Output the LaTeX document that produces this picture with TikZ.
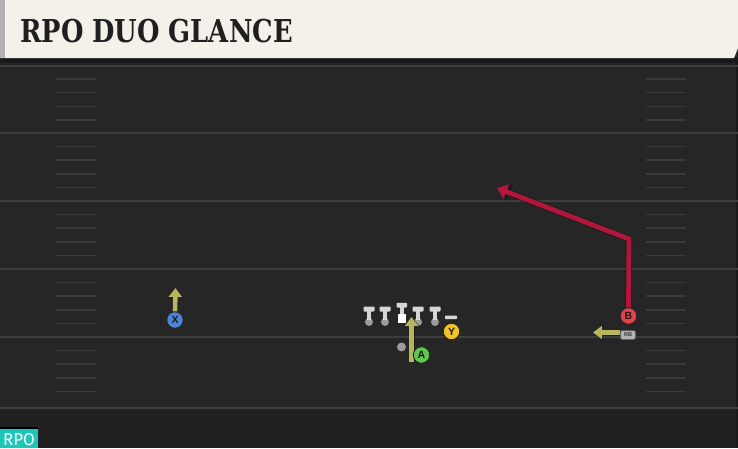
\documentclass[tikz,border=0pt]{standalone}
\usepackage{fontspec}
\setmainfont{Liberation Sans}
\newfontfamily\titlefont{DejaVu Serif}
\newfontfamily\labfont{Fira Sans}
\usetikzlibrary{arrows.meta,calc}
\definecolor{fieldc}{HTML}{262626}
\definecolor{fieldlow}{HTML}{202020}
\definecolor{cream}{HTML}{F4F1EA}
\definecolor{yardc}{HTML}{3E3E3E}
\definecolor{hashc}{HTML}{3A3A3A}
\definecolor{routec}{HTML}{B3163C}
\definecolor{runc}{HTML}{B8B65C}
\definecolor{xblue}{HTML}{4C82DA}
\definecolor{agreen}{HTML}{5EC84C}
\definecolor{yyellow}{HTML}{F2C12C}
\definecolor{bred}{HTML}{E8414B}
\definecolor{tealc}{HTML}{1CC7B8}
\definecolor{linec}{HTML}{D6D6D6}
\definecolor{dotc}{HTML}{9C9C9C}
\begin{document}
\begin{tikzpicture}[x=1pt,y=-1pt,
  player/.style={circle,draw=black!85,line width=0.9pt,minimum size=16.5pt,inner sep=0pt,
    font=\bfseries\fontsize{10.5}{10.5}\selectfont,text=black!90},
  runshadow/.style={draw=black!90,line width=6pt,-{Triangle[width=16pt,length=11pt]}},
  runarrow/.style={draw=runc,line width=4.6pt,-{Triangle[width=13pt,length=9pt]}},
  routeline/.style={draw=routec,line width=4.8pt,line join=miter,-{Triangle[width=15pt,length=10pt]}},
  shadowline/.style={draw=black!90,line width=6.6pt,line join=miter,-{Triangle[width=18pt,length=12pt]}},
  yard/.style={draw=yardc,line width=2pt},
  hash/.style={draw=hashc,line width=1.5pt},
  barc/.style={fill=linec,rounded corners=0.8pt}]
\useasboundingbox (0,0) rectangle (738,448);
% field
\fill[fieldc] (0,0) rectangle (738,448);
\fill[fieldlow] (0,409) rectangle (738,448);
\fill[black!35!fieldc] (736,62) rectangle (738,448);
% yard lines
\foreach \y in {65.5,133,201,269,337,408} \draw[yard] (0,\y) -- (738,\y);
% hash marks
\foreach \b in {65.5,133,201,269,337}{
  \foreach \k in {1,2,3,4}{
    \draw[hash] (56,\b+13.6*\k) -- (96,\b+13.6*\k);
    \draw[hash] (646,\b+13.6*\k) -- (686,\b+13.6*\k);
  }}
% header
\fill[black!90] (0,57) rectangle (738,63);
\fill[cream] (0,0) -- (738,0) -- (738,48) -- (734,58) -- (0,58) -- cycle;
\fill[black!30] (0,0) rectangle (5,58);
\node[anchor=base west,inner sep=0pt,text=black!88] (title) at (20,42.7)
  {\scalebox{0.86}[1.05]{\titlefont\bfseries\fontsize{30}{30}\selectfont RPO DUO GLANCE}};
% RPO tag
\fill[black] (0,427) rectangle (38,448);
\fill[tealc] (0,428.5) rectangle (38,448);
\node[anchor=base,inner sep=0pt,text=white,font=\labfont\fontsize{17}{17}\selectfont] (tag) at (19,445) {RPO};
% offensive line
\foreach \x in {369,385,418,435}{
  \fill[dotc] (\x,322) circle (4);
  \fill[linec] (\x-2,310) rectangle (\x+2,319.5);
  \fill[barc] (\x-5.5,306.5) rectangle (\x+5.5,311.5);
}
\fill[linec] (399.8,306) rectangle (404,314);
\fill[barc] (396.5,302.8) rectangle (407,307.5);
\node[fill=white,minimum size=8.5pt,inner sep=0pt] (C) at (402,318.5) {};
\fill[barc] (445,315.5) rectangle (457,319.2);
\fill[dotc] (401.5,347) circle (4.5);
% route of B
\node[player,fill=bred] (B) at (628.5,316) {B};
\coordinate (Bcorner) at (629,239);
\coordinate (Bend) at (497,188);
\draw[shadowline,opacity=0.7] (B.north) -- (Bcorner) -- ($(Bend)!1.5pt!(Bcorner)$);
\draw[routeline] (B.north) -- (Bcorner) -- (Bend);
\node[player,fill=bred] at (628.5,316) {B};
% RB
\node[fill=black!30,draw=black!70,line width=0.5pt,rounded corners=2pt,inner sep=0pt,
  minimum width=15pt,minimum height=9pt,font=\bfseries\fontsize{5.5}{5.5}\selectfont,text=black!80] (RB) at (628,335) {RB};
\coordinate (RBend) at (593,332.5);
\draw[runshadow,opacity=0.7] (RB.west |- 0,332.5) -- ($(RBend)+(-1,0)$);
\draw[runarrow] (RB.west |- 0,332.5) -- (RBend);
\node[fill=black!30,draw=black!70,line width=0.5pt,rounded corners=2pt,inner sep=0pt,
  minimum width=15pt,minimum height=9pt,font=\bfseries\fontsize{5.5}{5.5}\selectfont,text=black!80] at (628,335) {RB};
% X
\node[player,fill=xblue] (X) at (175,320) {X};
\coordinate (Xend) at (175.5,288);
\draw[runshadow,opacity=0.7] (X.north) -- ($(Xend)+(0,-1)$);
\draw[runarrow] (X.north) -- (Xend);
% A
\node[player,fill=agreen] (A) at (421.5,355) {A};
\coordinate (Astart) at (411.5,362);
\coordinate (Aend) at (411.5,317);
\draw[runshadow,opacity=0.7] (Astart) -- ($(Aend)+(0,-1)$);
\draw[runarrow] (Astart) -- (Aend);
\node[player,fill=agreen] at (421.5,355) {A};
% Y
\node[player,fill=yyellow] (Y) at (451.5,331.5) {Y};
\end{tikzpicture}
\end{document}
